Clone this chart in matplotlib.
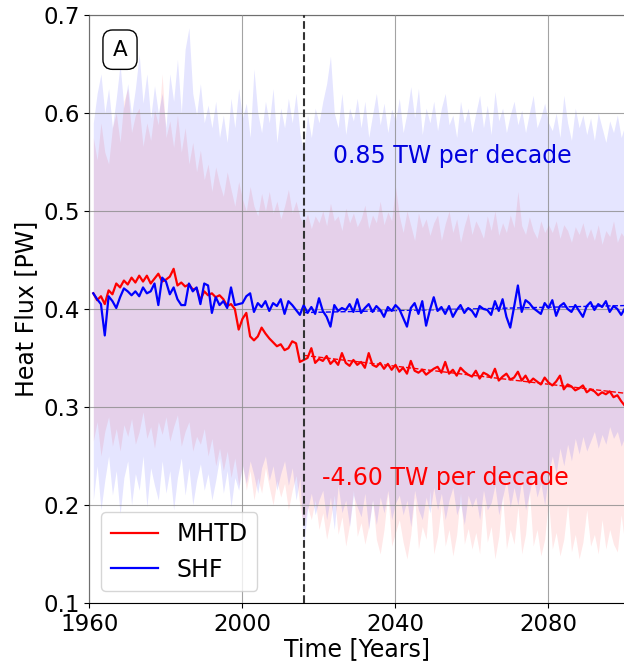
import numpy as np
import matplotlib
matplotlib.use("Agg")
import matplotlib.pyplot as plt

# Annual values, 1961-2100 (PW)
years = np.arange(1961, 2101)

mhtd = [
    0.416, 0.409, 0.413, 0.405, 0.419, 0.415, 0.426, 0.422, 0.429, 0.425,
    0.432, 0.427, 0.434, 0.428, 0.434, 0.426, 0.431, 0.436, 0.428, 0.430,
    0.433, 0.441, 0.424, 0.427, 0.423, 0.425, 0.420, 0.421, 0.409, 0.418,
    0.414, 0.416, 0.412, 0.414, 0.410, 0.403, 0.405, 0.400, 0.379, 0.390,
    0.396, 0.372, 0.368, 0.372, 0.381, 0.375, 0.370, 0.366, 0.362, 0.364,
    0.358, 0.360, 0.367, 0.365, 0.346, 0.348, 0.350, 0.360, 0.345, 0.349,
    0.347, 0.352, 0.344, 0.348, 0.343, 0.355, 0.345, 0.342, 0.348, 0.343,
    0.346, 0.340, 0.355, 0.343, 0.341, 0.345, 0.339, 0.344, 0.338, 0.343,
    0.336, 0.340, 0.334, 0.347, 0.337, 0.335, 0.338, 0.333, 0.336, 0.339,
    0.341, 0.335, 0.346, 0.334, 0.338, 0.332, 0.340, 0.336, 0.333, 0.331,
    0.337, 0.329, 0.335, 0.333, 0.330, 0.339, 0.327, 0.331, 0.334, 0.328,
    0.330, 0.336, 0.327, 0.332, 0.325, 0.329, 0.326, 0.323, 0.330, 0.325,
    0.322, 0.326, 0.332, 0.318, 0.323, 0.321, 0.317, 0.319, 0.322, 0.315,
    0.318, 0.316, 0.312, 0.315, 0.313, 0.316, 0.310, 0.312, 0.306, 0.301,
]

shf = [
    0.416, 0.410, 0.405, 0.373, 0.413, 0.408, 0.401, 0.412, 0.421, 0.418,
    0.414, 0.418, 0.413, 0.422, 0.416, 0.418, 0.426, 0.404, 0.432, 0.428,
    0.415, 0.422, 0.410, 0.404, 0.404, 0.426, 0.418, 0.422, 0.405, 0.426,
    0.424, 0.396, 0.412, 0.404, 0.408, 0.401, 0.422, 0.404, 0.405, 0.406,
    0.413, 0.416, 0.397, 0.406, 0.402, 0.408, 0.398, 0.406, 0.403, 0.410,
    0.395, 0.408, 0.404, 0.399, 0.394, 0.404, 0.396, 0.402, 0.395, 0.411,
    0.398, 0.392, 0.382, 0.404, 0.398, 0.401, 0.399, 0.405, 0.397, 0.410,
    0.396, 0.401, 0.405, 0.397, 0.403, 0.399, 0.392, 0.402, 0.398, 0.404,
    0.400, 0.391, 0.382, 0.401, 0.406, 0.395, 0.408, 0.383, 0.399, 0.412,
    0.398, 0.402, 0.395, 0.403, 0.392, 0.399, 0.404, 0.396, 0.401, 0.398,
    0.392, 0.403, 0.400, 0.399, 0.394, 0.408, 0.398, 0.410, 0.392, 0.381,
    0.402, 0.424, 0.397, 0.409, 0.406, 0.401, 0.398, 0.395, 0.406, 0.401,
    0.409, 0.393, 0.403, 0.406, 0.400, 0.397, 0.404, 0.398, 0.392, 0.403,
    0.407, 0.399, 0.405, 0.402, 0.408, 0.397, 0.403, 0.400, 0.394, 0.401,
]

# Spread envelopes
mhtd_hi = [
    0.575, 0.552, 0.590, 0.560, 0.548, 0.585, 0.600, 0.570, 0.612, 0.625,
    0.580, 0.598, 0.605, 0.566, 0.590, 0.572, 0.603, 0.588, 0.640, 0.575,
    0.592, 0.565, 0.598, 0.560, 0.585, 0.548, 0.570, 0.540, 0.562, 0.532,
    0.548, 0.520, 0.545, 0.528, 0.515, 0.540, 0.522, 0.505, 0.530, 0.512,
    0.500, 0.525, 0.505, 0.495, 0.518, 0.500, 0.520, 0.498, 0.510, 0.492,
    0.505, 0.522, 0.498, 0.510, 0.494, 0.486, 0.497, 0.482, 0.495, 0.488,
    0.500, 0.485, 0.508, 0.490, 0.495, 0.480, 0.503, 0.488, 0.498, 0.484,
    0.492, 0.506, 0.482, 0.496, 0.488, 0.510, 0.486, 0.499, 0.490, 0.525,
    0.495, 0.478, 0.500, 0.485, 0.470, 0.498, 0.483, 0.492, 0.475, 0.488,
    0.496, 0.470, 0.487, 0.500, 0.478, 0.492, 0.468, 0.485, 0.498, 0.476,
    0.490, 0.482, 0.472, 0.495, 0.480, 0.500, 0.475, 0.488, 0.478, 0.496,
    0.483, 0.520, 0.485, 0.476, 0.494, 0.480, 0.472, 0.490, 0.478, 0.486,
    0.478, 0.490, 0.472, 0.486, 0.480, 0.468, 0.484, 0.476, 0.488, 0.472,
    0.482, 0.470, 0.486, 0.466, 0.480, 0.474, 0.490, 0.468, 0.478, 0.472,
]

mhtd_lo = [
    0.265, 0.285, 0.250, 0.275, 0.290, 0.260, 0.278, 0.255, 0.282, 0.270,
    0.288, 0.262, 0.275, 0.295, 0.268, 0.280, 0.258, 0.285, 0.272, 0.290,
    0.265, 0.280, 0.292, 0.260, 0.275, 0.285, 0.255, 0.270, 0.262, 0.278,
    0.250, 0.268, 0.240, 0.258, 0.235, 0.255, 0.228, 0.248, 0.220, 0.242,
    0.215, 0.235, 0.205, 0.228, 0.212, 0.238, 0.218, 0.200, 0.225, 0.208,
    0.222, 0.195, 0.215, 0.230, 0.200, 0.178, 0.198, 0.185, 0.205, 0.175,
    0.192, 0.165, 0.185, 0.210, 0.170, 0.188, 0.158, 0.180, 0.215, 0.168,
    0.182, 0.160, 0.178, 0.205, 0.165, 0.150, 0.175, 0.212, 0.158, 0.172,
    0.185, 0.162, 0.145, 0.170, 0.208, 0.155, 0.178, 0.165, 0.215, 0.150,
    0.168, 0.200, 0.158, 0.175, 0.148, 0.170, 0.212, 0.160, 0.176, 0.155,
    0.172, 0.150, 0.205, 0.162, 0.178, 0.145, 0.168, 0.210, 0.155, 0.175,
    0.160, 0.198, 0.150, 0.170, 0.215, 0.158, 0.175, 0.148, 0.165, 0.205,
    0.155, 0.172, 0.148, 0.165, 0.200, 0.152, 0.170, 0.145, 0.162, 0.195,
    0.158, 0.170, 0.150, 0.185, 0.155, 0.175, 0.160, 0.152, 0.190, 0.158,
]

shf_hi = [
    0.590, 0.620, 0.640, 0.600, 0.625, 0.585, 0.615, 0.650, 0.605, 0.630,
    0.598, 0.625, 0.660, 0.610, 0.640, 0.595, 0.628, 0.600, 0.620, 0.585,
    0.640, 0.612, 0.655, 0.600, 0.665, 0.687, 0.620, 0.598, 0.630, 0.590,
    0.608, 0.585, 0.612, 0.575, 0.598, 0.570, 0.615, 0.585, 0.625, 0.595,
    0.610, 0.575, 0.645, 0.600, 0.580, 0.612, 0.590, 0.625, 0.570, 0.605,
    0.585, 0.615, 0.590, 0.620, 0.580, 0.560, 0.598, 0.575, 0.605, 0.590,
    0.612, 0.630, 0.658, 0.600, 0.585, 0.620, 0.578, 0.605, 0.592, 0.615,
    0.585, 0.612, 0.575, 0.598, 0.620, 0.588, 0.610, 0.580, 0.604, 0.592,
    0.615, 0.580, 0.600, 0.627, 0.595, 0.625, 0.578, 0.605, 0.590, 0.612,
    0.582, 0.605, 0.620, 0.588, 0.598, 0.575, 0.612, 0.590, 0.605, 0.580,
    0.600, 0.618, 0.585, 0.608, 0.578, 0.622, 0.592, 0.605, 0.580, 0.598,
    0.612, 0.588, 0.603, 0.580, 0.600, 0.618, 0.585, 0.596, 0.610, 0.590,
    0.582, 0.600, 0.575, 0.618, 0.590, 0.572, 0.605, 0.585, 0.598, 0.578,
    0.595, 0.572, 0.600, 0.585, 0.570, 0.592, 0.580, 0.598, 0.575, 0.588,
]

shf_lo = [
    0.205, 0.240, 0.195, 0.225, 0.250, 0.210, 0.235, 0.190, 0.228, 0.245,
    0.200, 0.232, 0.215, 0.250, 0.198, 0.238, 0.220, 0.205, 0.245, 0.212,
    0.235, 0.195, 0.228, 0.248, 0.210, 0.238, 0.200, 0.225, 0.242, 0.215,
    0.232, 0.205, 0.225, 0.248, 0.212, 0.235, 0.198, 0.228, 0.215, 0.240,
    0.222, 0.245, 0.230, 0.212, 0.238, 0.250, 0.225, 0.240, 0.215, 0.232,
    0.245, 0.220, 0.238, 0.205, 0.228, 0.158, 0.195, 0.212, 0.190, 0.205,
    0.215, 0.185, 0.208, 0.175, 0.220, 0.192, 0.205, 0.178, 0.210, 0.198,
    0.188, 0.212, 0.175, 0.205, 0.180, 0.208, 0.192, 0.215, 0.185, 0.202,
    0.210, 0.190, 0.205, 0.178, 0.215, 0.195, 0.185, 0.208, 0.192, 0.218,
    0.195, 0.212, 0.185, 0.205, 0.218, 0.190, 0.202, 0.180, 0.210, 0.198,
    0.208, 0.185, 0.215, 0.195, 0.202, 0.220, 0.190, 0.208, 0.225, 0.198,
    0.218, 0.200, 0.225, 0.195, 0.212, 0.230, 0.208, 0.222, 0.200, 0.232,
    0.250, 0.232, 0.258, 0.240, 0.262, 0.245, 0.268, 0.252, 0.270, 0.255,
    0.265, 0.275, 0.258, 0.272, 0.262, 0.280, 0.268, 0.275, 0.260, 0.270,
]

# Trends after the scenario split, TW per decade
split_year = 2016
mhtd_trend = -4.60
shf_trend = 0.85

x_ticks = [1960, 2000, 2040, 2080]
y_ticks = [0.1, 0.2, 0.3, 0.4, 0.5, 0.6, 0.7]

fig = plt.figure(figsize=(6.24, 6.63), dpi=100)
ax = fig.add_axes([0.1434, 0.0905, 0.8582, 0.8869])

ax.fill_between(years, mhtd_lo, mhtd_hi, color="red", alpha=0.09, lw=0, zorder=1)
ax.fill_between(years, shf_lo, shf_hi, color="blue", alpha=0.1, lw=0, zorder=1)

ax.plot(years, mhtd, color="red", lw=1.6, label="MHTD", zorder=3)
ax.plot(years, shf, color="blue", lw=1.6, label="SHF", zorder=3)


def trend_line(values, tw_per_decade):
    yrs = years[years >= split_year]
    vals = np.asarray(values)[years >= split_year]
    slope = tw_per_decade / 1000.0 / 10.0  # PW per year
    xm = yrs.mean()
    return yrs, vals.mean() + slope * (yrs - xm)


tx, ty = trend_line(mhtd, mhtd_trend)
ax.plot(tx, ty, color="red", lw=1.0, ls="--", zorder=2)
tx, ty = trend_line(shf, shf_trend)
ax.plot(tx, ty, color="blue", lw=1.0, ls="--", zorder=2)

ax.axvline(split_year, color="#333333", ls="--", lw=1.5, zorder=4)

ax.text(2023.7, 0.556, f"{shf_trend:.2f} TW per decade", color="#0000dd",
        fontsize=17, ha="left", va="center")
ax.text(2020.8, 0.2276, f"{mhtd_trend:.2f} TW per decade", color="red",
        fontsize=17, ha="left", va="center")

ax.text(0.057, 0.941, "A", transform=ax.transAxes, fontsize=15.5,
        ha="center", va="center",
        bbox=dict(boxstyle="round,pad=0.45", fc="white", ec="black", lw=1))

ax.set_xlim(1960, 2100)
ax.set_ylim(0.1, 0.7)
ax.set_xticks(x_ticks)
ax.set_yticks(y_ticks)
ax.tick_params(labelsize=16.5)
ax.grid(True, color="0.55", lw=0.8, alpha=0.8)
ax.set_axisbelow(False)
for g in ax.get_xgridlines() + ax.get_ygridlines():
    g.set_zorder(1.5)

ax.set_xlabel("Time [Years]", fontsize=17, labelpad=1)
ax.set_ylabel("Heat Flux [PW]", fontsize=17)

ax.legend(loc="lower left", fontsize=17, handlelength=2.0,
          borderaxespad=0.5)

fig.savefig("out.png", dpi=100)
